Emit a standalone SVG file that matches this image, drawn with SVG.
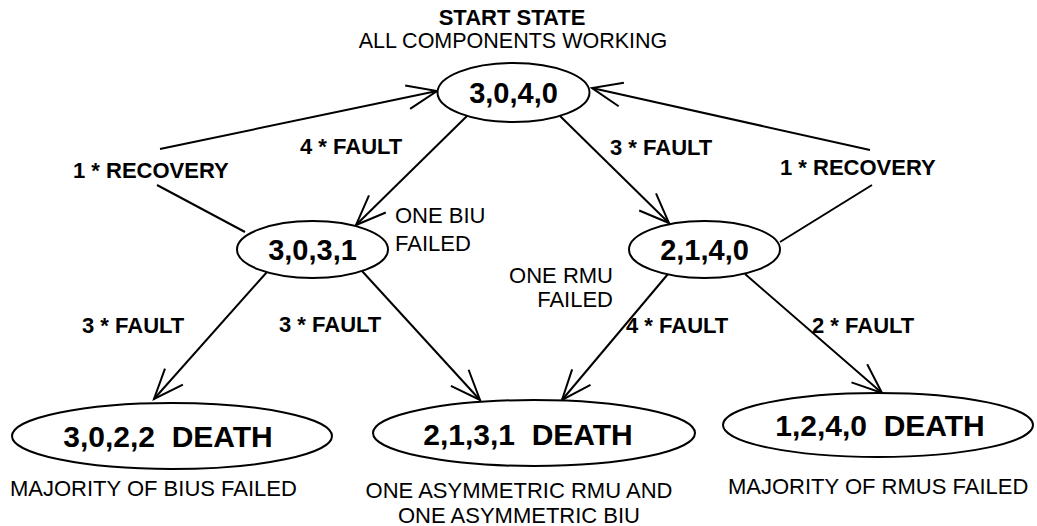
<svg xmlns="http://www.w3.org/2000/svg" width="1037" height="526" viewBox="0 0 1037 526">
<defs>
<style>
.node ellipse{fill:#fff;stroke:#000;stroke-width:2}
.nt{font-family:"Liberation Sans",Arial,sans-serif;font-weight:bold;font-size:29px;text-anchor:middle;fill:#000}
.dt{font-family:"Liberation Sans",Arial,sans-serif;font-weight:bold;font-size:30px;text-anchor:middle;fill:#000}
.lb{font-family:"Liberation Sans",Arial,sans-serif;font-weight:bold;font-size:22px;fill:#000}
.tx{font-family:"Liberation Sans",Arial,sans-serif;font-size:22px;fill:#000}
.ed line{stroke:#000;stroke-width:2;fill:none}
</style>
<marker id="ah" viewBox="0 0 33 26" refX="31" refY="13" markerWidth="33" markerHeight="26" markerUnits="userSpaceOnUse" orient="auto" overflow="visible">
<path d="M1,1 L31,13 L1,25" fill="none" stroke="#000" stroke-width="2"/>
</marker>
</defs>
<rect width="1037" height="526" fill="#fff"/>

<g id="connectors" class="ed">
<line x1="245" y1="232" x2="157" y2="185"/>
<line x1="160" y1="149" x2="437" y2="91" marker-end="url(#ah)"/>
<line x1="467" y1="116" x2="356" y2="225" marker-end="url(#ah)"/>
<line x1="560" y1="116" x2="669" y2="223" marker-end="url(#ah)"/>
<line x1="780" y1="242" x2="872" y2="185"/>
<line x1="870" y1="150" x2="592" y2="88" marker-end="url(#ah)"/>
<line x1="267" y1="272" x2="154" y2="399" marker-end="url(#ah)"/>
<line x1="362" y1="271" x2="480" y2="400" marker-end="url(#ah)"/>
<line x1="668" y1="274" x2="562" y2="400" marker-end="url(#ah)"/>
<line x1="745" y1="274" x2="882" y2="393" marker-end="url(#ah)"/>
</g>

<g id="edge-labels">
<text class="lb" x="73" y="178">1 * RECOVERY</text>
<text class="lb" x="300" y="154">4 * FAULT</text>
<text class="lb" x="610" y="155">3 * FAULT</text>
<text class="lb" x="780" y="175">1 * RECOVERY</text>
<text class="lb" x="82" y="333">3 * FAULT</text>
<text class="lb" x="279" y="332">3 * FAULT</text>
<text class="lb" x="626" y="333">4 * FAULT</text>
<text class="lb" x="812" y="333">2 * FAULT</text>
</g>

<g id="start-caption">
<text class="lb" x="512" y="25" text-anchor="middle">START STATE</text>
<text class="tx" x="513" y="48" text-anchor="middle" style="font-size:21.5px">ALL COMPONENTS WORKING</text>
</g>

<g id="n3040" class="node">
<ellipse cx="513.5" cy="92.5" rx="76" ry="29.5"/>
<text class="nt" x="513.5" y="103">3,0,4,0</text>
</g>

<g id="n3031" class="node">
<ellipse cx="312.5" cy="249.5" rx="75.5" ry="28.5"/>
<text class="nt" x="312.5" y="260">3,0,3,1</text>
<text class="tx" x="395" y="223">ONE BIU</text>
<text class="tx" x="395" y="251">FAILED</text>
</g>

<g id="n2140" class="node">
<ellipse cx="704.5" cy="249.5" rx="75.5" ry="28.5"/>
<text class="nt" x="704.5" y="260">2,1,4,0</text>
<text class="tx" x="613" y="283" text-anchor="end">ONE RMU</text>
<text class="tx" x="613" y="307" text-anchor="end">FAILED</text>
</g>

<g id="n3022" class="node">
<ellipse cx="172" cy="436" rx="160" ry="33"/>
<text class="dt" x="168" y="447" xml:space="preserve">3,0,2,2  DEATH</text>
<text class="tx" x="10" y="496">MAJORITY OF BIUS FAILED</text>
</g>

<g id="n2131" class="node">
<ellipse cx="534" cy="433" rx="161" ry="33"/>
<text class="dt" x="528" y="445" xml:space="preserve">2,1,3,1  DEATH</text>
<text class="tx" x="519" y="498" text-anchor="middle">ONE ASYMMETRIC RMU AND</text>
<text class="tx" x="519" y="523" text-anchor="middle">ONE ASYMMETRIC BIU</text>
</g>

<g id="n1240" class="node">
<ellipse cx="878" cy="425" rx="155" ry="32"/>
<text class="dt" x="880" y="436" xml:space="preserve">1,2,4,0  DEATH</text>
<text class="tx" x="728" y="494">MAJORITY OF RMUS FAILED</text>
</g>
</svg>
